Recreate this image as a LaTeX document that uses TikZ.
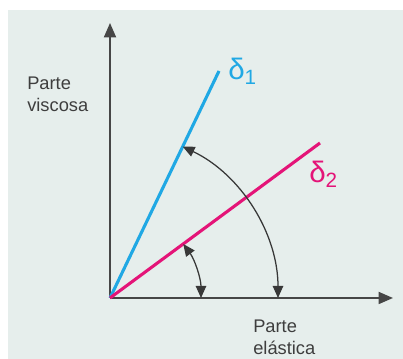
\documentclass[tikz,border=0pt]{standalone}
\usepackage{fontspec}
\setmainfont{Liberation Sans}
\usepackage{xcolor}
\usetikzlibrary{arrows.meta,positioning}
\definecolor{bgpanel}{RGB}{230,238,236}
\definecolor{delta1}{RGB}{32,168,228}
\definecolor{delta2}{RGB}{228,20,120}
\definecolor{axisgrey}{RGB}{70,70,70}
\definecolor{labelgrey}{RGB}{62,62,62}

\begin{document}
\begin{tikzpicture}[
  x=0.025cm, y=0.025cm,
  every node/.style={font=\fontsize{13}{16}\selectfont, text=labelgrey, inner sep=0pt},
  axis/.style={-{Triangle[length=0.36cm,width=0.3cm]}, line width=1.3pt, draw=axisgrey},
  vector/.style={line width=2.2pt},
  angle/.style={{Triangle[length=0.3cm,width=0.26cm]}-{Triangle[length=0.3cm,width=0.26cm]}, line width=0.9pt, draw=axisgrey!80!black},
  deltalabel/.style={font=\fontsize{21}{24}\selectfont, anchor=base west}
]
\useasboundingbox (0,0) rectangle (403,359);
\fill[bgpanel] (8,0) rectangle (403,349);

\coordinate (o) at (110,61);
\coordinate (ytip) at (110,336);
\coordinate (xtip) at (393,61);
\coordinate (d1end) at (219,288);
\coordinate (d2end) at (320,216);

\draw[axis] (o) -- (ytip);
\draw[axis] (o) -- (xtip);
\draw[vector, delta1] (o) -- (d1end);
\draw[vector, delta2] (o) -- (d2end);

% angle markers
\draw[angle] (o) ++(64.4:168) arc[start angle=64.4, end angle=0, radius=168];
\draw[angle] (o) ++(36.4:91) arc[start angle=36.4, end angle=0, radius=91];

\node[deltalabel, text=delta1] (d1) at (228,279) {δ\textsubscript{1}};
\node[deltalabel, text=delta2] (d2) at (309,176) {δ\textsubscript{2}};

\node[align=left, anchor=base west] (visc) at (27,247) {Parte\\viscosa};
\node[align=left, anchor=base west] (elas) at (253,4) {Parte\\elástica};
\end{tikzpicture}
\end{document}
